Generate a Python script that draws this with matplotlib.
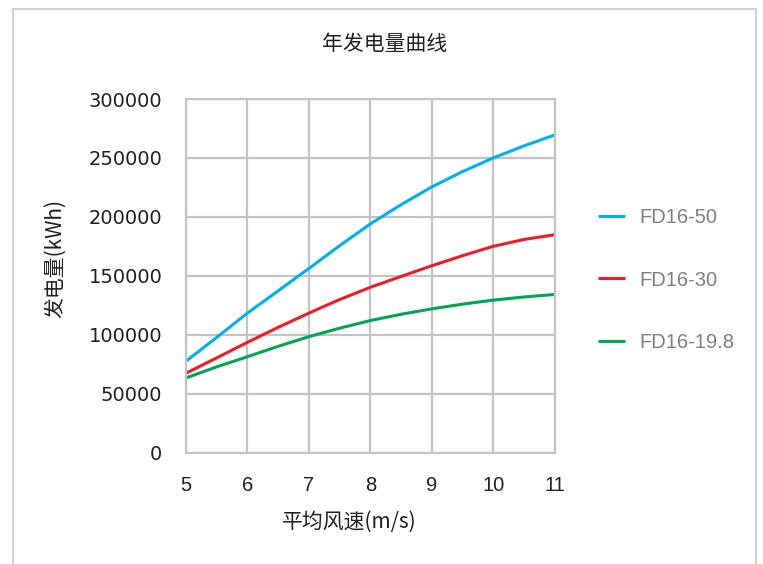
import matplotlib
matplotlib.use("Agg")
import matplotlib.pyplot as plt
from matplotlib.patches import Rectangle

plt.rcParams['font.family'] = ['Noto Sans CJK SC', 'DejaVu Sans']

# values at every half m/s
wind_speed = [5, 5.5, 6, 6.5, 7, 7.5, 8, 8.5, 9, 9.5, 10, 10.5, 11]
fd16_50 = [77500, 97700, 118300, 137200, 156200, 175500, 194000, 210300, 225400, 238400, 250000, 260200, 269500]
fd16_30 = [67300, 80300, 93500, 106200, 118300, 129800, 140200, 149400, 158500, 167000, 175000, 180800, 184800]
fd16_198 = [63300, 72700, 81300, 90100, 98300, 105500, 112000, 117300, 121900, 125900, 129300, 132000, 134100]

series_names = ['FD16-50', 'FD16-30', 'FD16-19.8']
colors = ['#00b0f0', '#ee1c25', '#00a650']
xticks = [5, 6, 7, 8, 9, 10, 11]
yticks = [0, 50000, 100000, 150000, 200000, 250000, 300000]

fig = plt.figure(figsize=(7.63, 5.64), dpi=100)
ax = fig.add_axes([186 / 763, 1 - 452.5 / 564, (554.7 - 186) / 763, (452.5 - 99) / 564])

for vals, name, c in zip([fd16_50, fd16_30, fd16_198], series_names, colors):
    ax.plot(wind_speed, vals, color=c, lw=2.2, label=name, solid_capstyle='butt')

ax.set_xlim(5, 11)
ax.set_ylim(0, 300000)
ax.set_xticks(xticks)
ax.set_yticks(yticks)
ax.set_yticklabels([str(v) for v in yticks], family='DejaVu Sans', fontsize=14, color='#231f20')
ax.set_xticklabels([str(v) for v in xticks], family='Liberation Sans', fontsize=14.5, color='#231f20')
ax.tick_params(axis='both', length=0)
ax.tick_params(axis='y', pad=17)
ax.tick_params(axis='x', pad=17)
ax.grid(True, color='#c3c3c7', lw=1.6)
ax.set_axisbelow(True)
for s in ax.spines.values():
    s.set_color('#c3c3c7')
    s.set_linewidth(1.6)

leg = ax.legend(loc='center left', bbox_to_anchor=(598 / 763, 1 - 280 / 564),
                bbox_transform=fig.transFigure, frameon=False, borderpad=0,
                borderaxespad=0, labelspacing=2.15, handlelength=1.35,
                handletextpad=0.72, prop={'family': 'Liberation Sans', 'size': 14.5})
for t in leg.get_texts():
    t.set_color('#7f7f7f')

fig.text(385 / 763, 1 - 44 / 564, '年发电量曲线', ha='center', va='center', fontsize=15, color='#231f20')
fig.text(349 / 763, 1 - 522 / 564, '平均风速(m/s)', ha='center', va='center', fontsize=15, color='#231f20')
fig.text(55 / 763, 1 - 259 / 564, '发电量(kWh)', ha='center', va='center', rotation=90, fontsize=15, color='#231f20')

# outer frame, bottom edge runs off the picture
fig.patches.append(Rectangle((12.5 / 763, -0.05), (756 - 12.5) / 763, 1.05 - 8.5 / 564,
                             transform=fig.transFigure, fill=False, ec='#d2d2d2', lw=1.6))

fig.savefig('out.png', dpi=100)
